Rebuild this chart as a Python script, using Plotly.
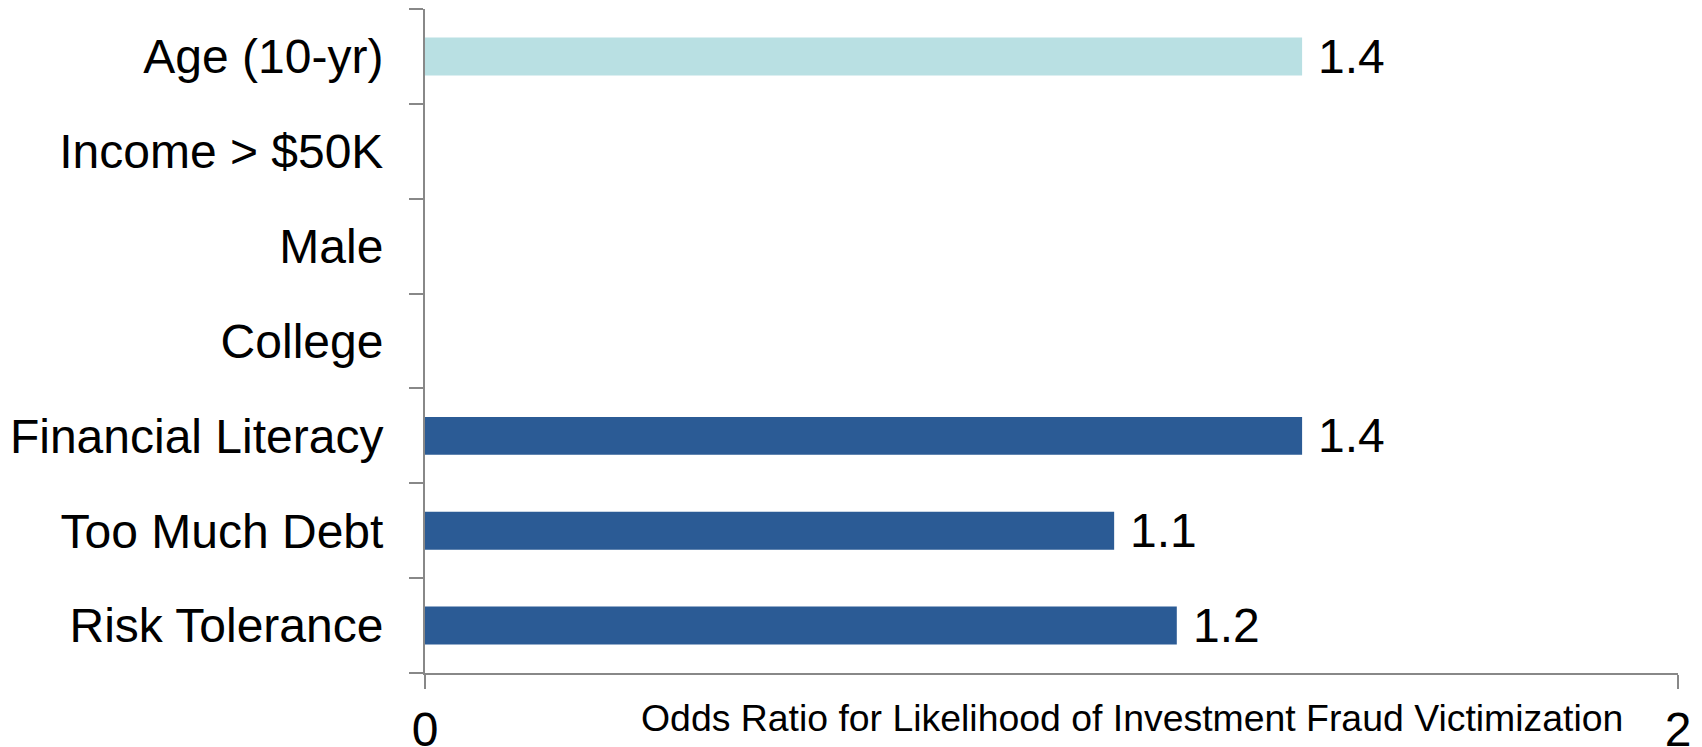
import plotly.graph_objects as go

# Predictors, listed top to bottom
categories = ["Age (10-yr)", "Income > $50K", "Male", "College",
              "Financial Literacy", "Too Much Debt", "Risk Tolerance"]
# Odds ratios (None where the predictor was not significant)
odds_ratios = [1.4, None, None, None, 1.4, 1.1, 1.2]
bar_colors = ["#B9E0E3", "#2B5B95", "#2B5B95", "#2B5B95",
              "#2B5B95", "#2B5B95", "#2B5B95"]
x_ticks = [0, 2]
x_title = "Odds Ratio for Likelihood of Investment Fraud Victimization"

FONT = "Liberation Sans, Arial, sans-serif"
AXIS_GRAY = "#888888"
BIG = 48

fig = go.Figure(
    go.Bar(
        x=odds_ratios,
        y=categories,
        orientation="h",
        marker=dict(color=bar_colors, line=dict(width=0)),
        width=0.4,
        hoverinfo="x+y",
    )
)

# Value labels to the right of each bar
for cat, val in zip(categories, odds_ratios):
    if val is None:
        continue
    fig.add_annotation(
        x=val, y=cat, xref="x", yref="y",
        text=f"{val}", showarrow=False,
        xanchor="left", yanchor="middle", xshift=14, yshift=0,
        font=dict(family=FONT, size=BIG, color="black"),
    )

# Axis title placed under the right part of the plot
fig.add_annotation(
    x=0.5646, y=-0.068, xref="paper", yref="paper",
    text=x_title, showarrow=False,
    xanchor="center", yanchor="middle",
    font=dict(family=FONT, size=37.4, color="black"),
)

fig.update_layout(
    width=1702, height=747,
    margin=dict(l=425, r=24, t=9, b=74, autoexpand=False),
    paper_bgcolor="white", plot_bgcolor="white",
    showlegend=False,
    font=dict(family=FONT, size=BIG, color="black"),
    xaxis=dict(
        range=[0, 2], tickvals=x_ticks, ticktext=[str(t) for t in x_ticks],
        automargin=False,
        showgrid=True, gridcolor=AXIS_GRAY, gridwidth=2,
        zeroline=False,
        showline=True, linecolor=AXIS_GRAY, linewidth=2,
        ticks="outside", ticklen=14, tickwidth=2, tickcolor=AXIS_GRAY,
        tickfont=dict(family=FONT, size=BIG, color="black"),
        ticklabelstandoff=-1,
    ),
    yaxis=dict(
        categoryorder="array", categoryarray=categories[::-1],
        automargin=False,
        showgrid=False, zeroline=False,
        showline=True, linecolor=AXIS_GRAY, linewidth=2,
        ticks="outside", ticklen=14, tickwidth=2, tickcolor=AXIS_GRAY,
        tickson="boundaries",
        tickfont=dict(family=FONT, size=BIG, color="black"),
        ticklabelstandoff=30,
    ),
)

fig.write_html("out.html")
